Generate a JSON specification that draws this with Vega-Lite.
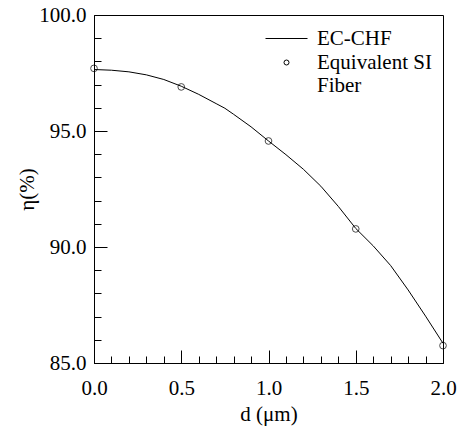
{
  "$schema": "https://vega.github.io/schema/vega-lite/v6.json",
  "width": 349,
  "height": 348,
  "autosize": "none",
  "padding": {"left": 94, "top": 15, "right": 18, "bottom": 65},
  "background": "white",
  "config": {
    "font": "Liberation Serif",
    "view": {"stroke": "black", "strokeWidth": 1},
    "axis": {
      "domainColor": "black",
      "tickColor": "black",
      "tickWidth": 1,
      "labelColor": "black",
      "titleColor": "black",
      "labelFont": "Liberation Serif",
      "titleFont": "Liberation Serif",
      "labelFontSize": 21,
      "titleFontSize": 21,
      "titleFontWeight": "normal",
      "grid": false,
      "labelOverlap": false,
      "labelFlush": false
    },
    "legend": {
      "labelFont": "Liberation Serif"
    }
  },
  "layer": [
    {
      "data": {
        "values": [
          {"d": 0.0, "eta": 97.65},
          {"d": 0.1, "eta": 97.62},
          {"d": 0.2, "eta": 97.55},
          {"d": 0.3, "eta": 97.42},
          {"d": 0.4, "eta": 97.22},
          {"d": 0.5, "eta": 96.93},
          {"d": 0.6, "eta": 96.58},
          {"d": 0.7, "eta": 96.18},
          {"d": 0.75, "eta": 95.98},
          {"d": 0.8, "eta": 95.72},
          {"d": 0.9, "eta": 95.18},
          {"d": 1.0, "eta": 94.57},
          {"d": 1.1, "eta": 93.98},
          {"d": 1.2, "eta": 93.35},
          {"d": 1.3, "eta": 92.62},
          {"d": 1.4, "eta": 91.75},
          {"d": 1.5, "eta": 90.8},
          {"d": 1.6, "eta": 90.05},
          {"d": 1.7, "eta": 89.2},
          {"d": 1.8, "eta": 88.15},
          {"d": 1.9, "eta": 87.02},
          {"d": 2.0, "eta": 85.85}
        ]
      },
      "mark": {"type": "line", "strokeWidth": 1, "color": "black"},
      "encoding": {
        "x": {
          "field": "d",
          "type": "quantitative",
          "scale": {"domain": [0, 2], "nice": false, "zero": false},
          "axis": {
            "orient": "bottom",
            "title": "d (μm)",
            "values": [0, 0.5, 1.0, 1.5, 2.0],
            "format": ".1f",
            "tickSize": -13,
            "labelPadding": 27,
            "labelOverlap": false,
            "labelFlush": false,
            "titlePadding": 5
          }
        },
        "y": {
          "field": "eta",
          "type": "quantitative",
          "scale": {"domain": [85, 100], "nice": false, "zero": false},
          "axis": {
            "orient": "left",
            "title": "η(%)",
            "values": [85, 90, 95, 100],
            "format": ".1f",
            "tickSize": -13,
            "labelPadding": 21,
            "labelOverlap": false,
            "titlePadding": 1
          }
        },
        "color": {
          "datum": "EC-CHF",
          "scale": {"domain": ["EC-CHF", "Equivalent SI Fiber"], "range": ["black", "black"]},
          "legend": {
            "orient": "none",
            "legendX": 182,
            "legendY": 13,
            "title": null,
            "labelFont": "Liberation Serif",
            "labelFontSize": 21,
            "labelColor": "black",
            "labelLimit": 300,
            "symbolSize": 1764,
            "labelOffset": 20,
            "labelExpr": "datum.label === 'Equivalent SI Fiber' ? ['Equivalent SI', 'Fiber'] : datum.label",
            "encode": {
              "symbols": {
                "update": {
                  "shape": {"signal": "datum.value === 'EC-CHF' ? 'stroke' : 'circle'"},
                  "size": {"signal": "datum.value === 'EC-CHF' ? 1764 : 25"},
                  "stroke": {"value": "black"},
                  "fill": {"value": "transparent"},
                  "strokeWidth": {"value": 1}
                }
              }
            }
          }
        }
      }
    },
    {
      "data": {
        "values": [
          {"d": 0.0, "eta": 97.7},
          {"d": 0.5, "eta": 96.9},
          {"d": 1.0, "eta": 94.57},
          {"d": 1.5, "eta": 90.78},
          {"d": 2.0, "eta": 85.75}
        ]
      },
      "mark": {"type": "point", "shape": "circle", "filled": false, "size": 45, "strokeWidth": 1},
      "encoding": {
        "x": {
          "field": "d",
          "type": "quantitative",
          "axis": {
            "orient": "top",
            "offset": -348,
            "title": null,
            "labels": false,
            "domain": false,
            "values": [0.1, 0.2, 0.3, 0.4, 0.6, 0.7, 0.8, 0.9, 1.1, 1.2, 1.3, 1.4, 1.6, 1.7, 1.8, 1.9],
            "tickSize": 7
          }
        },
        "y": {
          "field": "eta",
          "type": "quantitative",
          "axis": {
            "orient": "right",
            "offset": -349,
            "title": null,
            "labels": false,
            "domain": false,
            "values": [86, 87, 88, 89, 91, 92, 93, 94, 96, 97, 98, 99],
            "tickSize": 7
          }
        },
        "color": {"datum": "Equivalent SI Fiber"}
      }
    }
  ]
}
